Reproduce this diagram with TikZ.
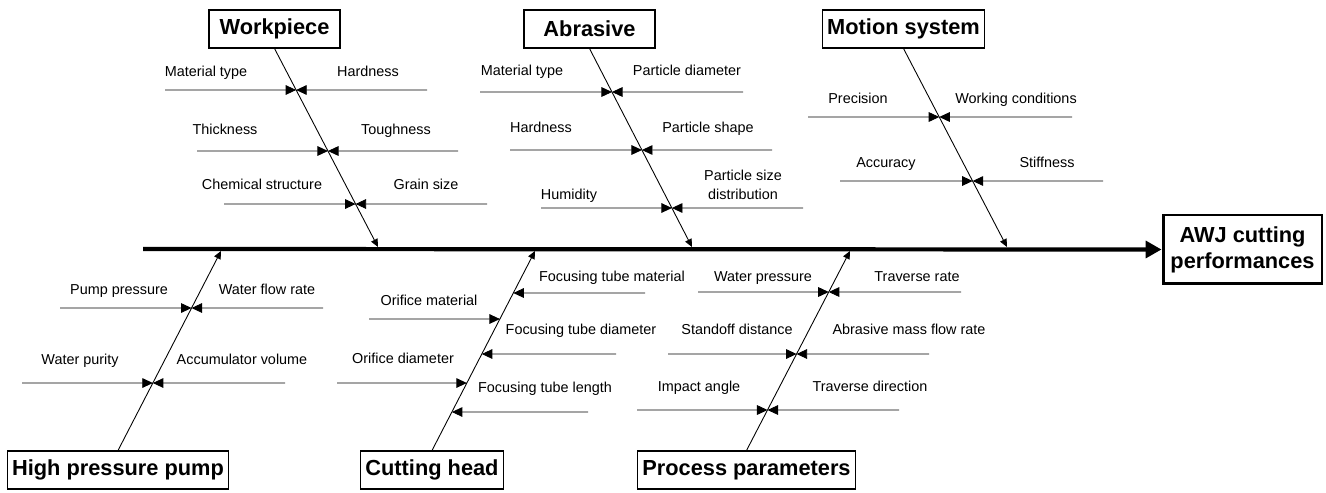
\documentclass[tikz,border=0pt]{standalone}
\usepackage{fontspec}
\setmainfont{Liberation Sans}
\usetikzlibrary{arrows.meta,positioning}
\tikzset{
  catbox/.style={rectangle, draw, line width=0.6pt, font=\fontsize{12.4}{14}\selectfont\bfseries, inner xsep=0.09cm, inner ysep=0pt, minimum height=0.76cm},
  effectbox/.style={rectangle, draw, line width=1.7pt, align=center, font=\fontsize{12.4}{14.7}\selectfont\bfseries, minimum width=3.18cm, minimum height=1.38cm, inner sep=0pt},
  cause/.style={font=\fontsize{8.2}{11.3}\selectfont, anchor=base, inner sep=0pt, align=center},
  spine/.style={line width=2.4pt, -{Triangle[length=9pt,width=9.5pt]}},
  bone/.style={line width=0.5pt, -{Triangle[length=4.5pt,width=4pt]}},
  twig/.style={line width=0.5pt, -{Triangle[length=6pt,width=5.5pt]}}
}

\begin{document}
\begin{tikzpicture}[x=0.02cm, y=-0.02cm]
  \useasboundingbox (0,0) rectangle (1326,493);
  % categories and effect
  \node[catbox, minimum width=2.62cm] (workpiece) at (274.5,29) {Workpiece};
  \node[catbox, minimum width=2.62cm] (abrasive) at (589.5,29) {Abrasive};
  \node[catbox] (motion) at (903.5,29) {Motion system};
  \node[catbox] (pump) at (118,470) {High pressure pump};
  \node[catbox] (head) at (432,470) {Cutting head};
  \node[catbox] (process) at (746.5,470) {Process parameters};
  \node[effectbox] (awj) at (1242.5,249.5) {AWJ cutting\\performances};
  % spine
  \coordinate (tail) at (143,249);
  \draw[spine] (tail) -- (awj.west);
  % bones
  \foreach \b/\a/\x/\y in {workpiece/south/378/247, abrasive/south/692/247, motion/south/1007/247,
      pump/north/221/251, head/north/535/251, process/north/850/251}{
    \coordinate (\b-start) at (\b.\a);
    \coordinate (\b-end) at (\x,\y);
    \draw[bone] (\b-start) -- (\b-end);
  }
  % causes on both sides of a bone
  \foreach \b/\y/\xl/\xr/\lx/\rx/\ly/\ltext/\rtext [count=\i] in {
      workpiece/90/165/427/206/368/77/Material type/Hardness,
      workpiece/151/197/458/225/396/135/Thickness/Toughness,
      workpiece/204/224/487/262/426/190/Chemical structure/Grain size,
      abrasive/92/480/743/522/687/76/Material type/Particle diameter,
      abrasive/150/510/772/541/708/133/Hardness/Particle shape,
      abrasive/208/541/803/569/743/200/Humidity/Particle size\\distribution,
      motion/117/808/1072/858/1016/104/Precision/Working conditions,
      motion/181/840/1103/886/1047/168/Accuracy/Stiffness,
      pump/308/60/323/119/267/295/Pump pressure/Water flow rate,
      pump/383/22/285/80/242/364/Water purity/Accumulator volume,
      process/292/698/961/763/917/282/Water pressure/Traverse rate,
      process/354/668/929/737/909/335/Standoff distance/Abrasive mass flow rate,
      process/410/637/899/699/870/392/Impact angle/Traverse direction}{
    \coordinate (c\i-j) at (intersection cs: first line={(\b-start)--(\b-end)}, second line={(0,\y)--(1,\y)});
    \coordinate (c\i-l) at (\xl,\y);
    \coordinate (c\i-r) at (\xr,\y);
    \draw[twig] (c\i-l) -- (c\i-j);
    \draw[twig] (c\i-r) -- (c\i-j);
    \node[cause] (c\i-lt) at (\lx,\ly) {\ltext};
    \node[cause] (c\i-rt) at (\rx,\ly) {\rtext};
  }
  % cutting head causes, one side each
  \foreach \y/\xs/\lx/\ly/\t [count=\i] in {319/369/429/306/Orifice material,
      383/337/403/363/Orifice diameter, 293/645/612/282/Focusing tube material,
      354/616/581/335/Focusing tube diameter, 412/588/545/393/Focusing tube length}{
    \coordinate (h\i-j) at (intersection cs: first line={(head-start)--(head-end)}, second line={(0,\y)--(1,\y)});
    \coordinate (h\i-s) at (\xs,\y);
    \draw[twig] (h\i-s) -- (h\i-j);
    \node[cause] (h\i-t) at (\lx,\ly) {\t};
  }
\end{tikzpicture}
\end{document}
